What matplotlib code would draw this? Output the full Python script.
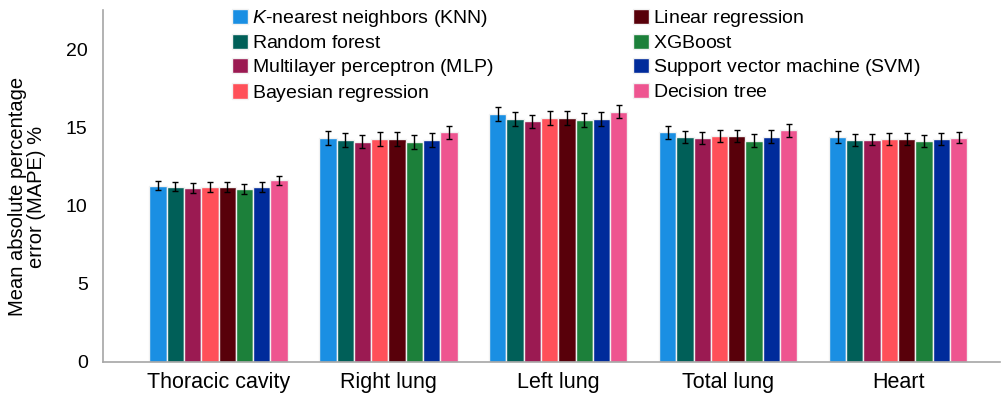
import numpy as np
import matplotlib.pyplot as plt

plt.rcParams['font.family'] = ['Liberation Sans', 'DejaVu Sans']
plt.rcParams['mathtext.fontset'] = 'custom'
plt.rcParams['mathtext.rm'] = 'Liberation Sans'
plt.rcParams['mathtext.it'] = 'Liberation Sans:italic'

# Organs (x categories) and the models compared on each
organs = ["Thoracic cavity", "Right lung", "Left lung", "Total lung", "Heart"]
models = ["$K$-nearest neighbors (KNN)", "Random forest", "Multilayer perceptron (MLP)",
          "Bayesian regression", "Linear regression", "XGBoost",
          "Support vector machine (SVM)", "Decision tree"]
colors = ["#1a8fe3", "#005f58", "#9b1a52", "#ff5059",
          "#58000a", "#1c803a", "#002b9b", "#ee5590"]

# MAPE (%) per model, one value per organ
knn = [11.27, 14.32, 15.86, 14.67, 14.37]
rf = [11.20, 14.19, 15.54, 14.38, 14.20]
mlp = [11.13, 14.08, 15.39, 14.32, 14.22]
bayes = [11.19, 14.24, 15.60, 14.45, 14.24]
linreg = [11.19, 14.24, 15.60, 14.45, 14.26]
xgb = [11.07, 14.06, 15.46, 14.15, 14.11]
svm = [11.19, 14.19, 15.52, 14.41, 14.26]
dtree = [11.62, 14.68, 16.00, 14.80, 14.35]

# half-width of the error bars per organ
err = [0.30, 0.43, 0.43, 0.40, 0.37]

values = [knn, rf, mlp, bayes, linreg, xgb, svm, dtree]


def plain_math(s):
    # wrap plain labels in mathtext too, so every legend row has the same height
    if s.startswith("$"):
        return s
    return "$\\mathregular{" + s.replace(" ", "\\ ") + "}$"


fig = plt.figure(figsize=(10.05, 3.99), dpi=100)
ax = fig.add_axes([0.1025, 37 / 399, 0.8925, 352 / 399])

x = np.arange(len(organs))
pitch = 0.1017
for i, (vals, name, c) in enumerate(zip(values, models, colors)):
    pos = x + (i - 3.5) * pitch
    ax.bar(pos, vals, width=pitch, color=c, edgecolor="#f2f2f2", linewidth=1.0,
           label=plain_math(name))
    ax.errorbar(pos, vals, yerr=err, fmt="none", ecolor="black",
                elinewidth=1.0, capsize=2.2, capthick=1.0)

ax.set_xlim(-0.68, 4.6)
ax.set_ylim(0, 22.5)
ax.set_yticks([0, 5, 10, 15, 20])
ax.set_xticks(x)
ax.set_xticklabels(organs, fontsize=15.5)
ax.tick_params(axis="y", labelsize=14, length=0, pad=11)
ax.tick_params(axis="x", length=0, pad=7)
ax.set_ylabel("Mean absolute percentage\nerror (MAPE) %", fontsize=14.5,
              linespacing=1.0)
ax.yaxis.set_label_coords(-0.064, 0.47)

for side in ["top", "right"]:
    ax.spines[side].set_visible(False)
for side in ["left", "bottom"]:
    ax.spines[side].set_color("#a6a6a6")
    ax.spines[side].set_linewidth(1.2)

ax.legend(ncol=2, loc="upper left", bbox_to_anchor=(0.135, 1.027), frameon=False,
          fontsize=14, handlelength=0.85, handleheight=0.85, handletextpad=0.2,
          columnspacing=7.15, labelspacing=0.24, borderaxespad=0)

fig.savefig("out.png", dpi=100)
